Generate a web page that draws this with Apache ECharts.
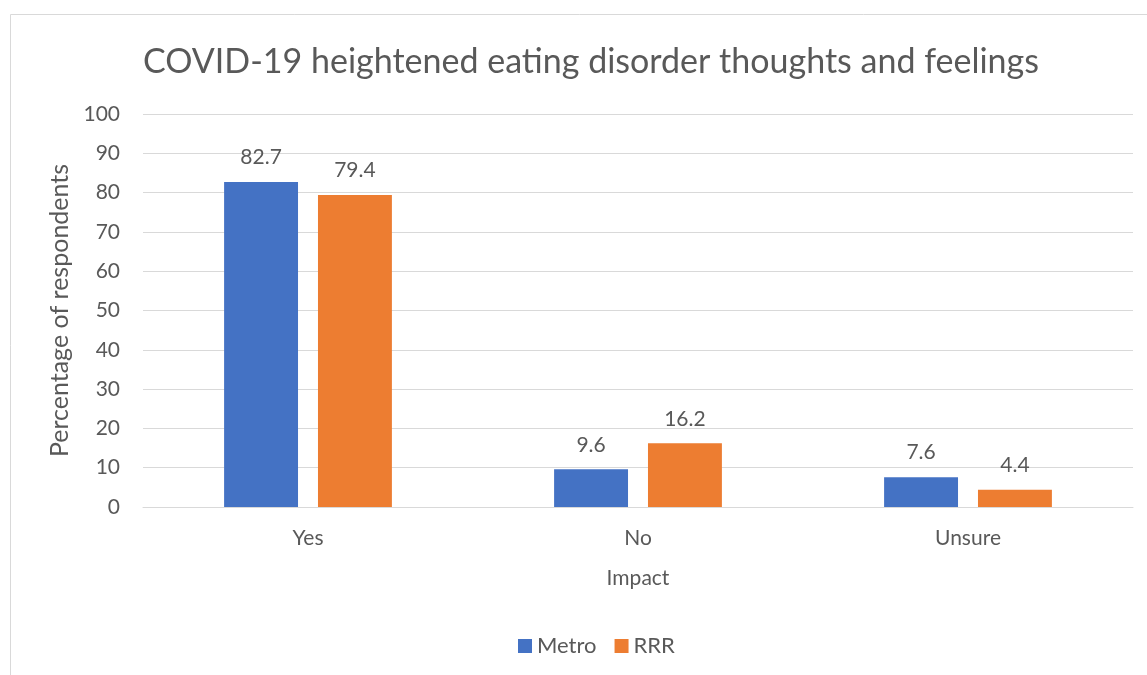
<!DOCTYPE html>
<html>
<head>
<meta charset="utf-8">
<script src="https://cdn.jsdelivr.net/npm/echarts@6/dist/echarts.min.js"></script>
<style>
  html, body { margin: 0; padding: 0; background: #fff; }
  #chart { width: 1147px; height: 675px; }
</style>
</head>
<body>
<div id="chart"></div>
<script>
// Survey responses by region
const categories = ['Yes', 'No', 'Unsure'];
const metro = [82.7, 9.6, 7.6];
const rrr = [79.4, 16.2, 4.4];
const yMin = 0, yMax = 100, yStep = 10;

const textColor = '#595959';
const font = 'Lato, "Open Sans", sans-serif';

const chart = echarts.init(document.getElementById('chart'));

const barLabel = {
  show: true,
  position: 'top',
  distance: 14,
  color: textColor,
  fontFamily: font,
  fontSize: 21,
  formatter: p => p.value.toFixed(1)
};

chart.setOption({
  animation: false,
  textStyle: { fontFamily: font },
  graphic: [{
    type: 'rect',
    shape: { x: 10.5, y: 14.5, width: 1200, height: 700 },
    style: { fill: 'none', stroke: '#d9d9d9', lineWidth: 1 },
    silent: true
  }],
  title: {
    text: 'COVID-19 heightened eating disorder thoughts and feelings',
    left: 586,
    textAlign: 'center',
    top: 40,
    textStyle: { color: textColor, fontFamily: font, fontSize: 34, fontWeight: 'normal' }
  },
  legend: {
    bottom: 13,
    left: 513,
    itemWidth: 14,
    itemHeight: 14,
    itemGap: 18,
    icon: 'rect',
    textStyle: { color: textColor, fontFamily: font, fontSize: 22 },
    data: ['Metro', 'RRR']
  },
  grid: { left: 143, right: 14, top: 114, bottom: 168, containLabel: false },
  xAxis: {
    type: 'category',
    data: categories,
    name: 'Impact',
    nameLocation: 'middle',
    nameGap: 61,
    nameTextStyle: { color: textColor, fontFamily: font, fontSize: 21 },
    axisLine: { show: true, lineStyle: { color: '#d9d9d9', width: 1 } },
    axisTick: { show: false },
    axisLabel: { color: textColor, fontFamily: font, fontSize: 21, margin: 21 }
  },
  yAxis: {
    type: 'value',
    min: yMin,
    max: yMax,
    interval: yStep,
    name: 'Percentage of respondents',
    nameLocation: 'middle',
    nameRotate: 90,
    nameGap: 69,
    nameTextStyle: { color: textColor, fontFamily: font, fontSize: 25 },
    axisLine: { show: false },
    axisTick: { show: false },
    axisLabel: { color: textColor, fontFamily: font, fontSize: 21, margin: 23 },
    splitLine: { lineStyle: { color: '#d9d9d9', width: 1 } }
  },
  series: [
    {
      name: 'Metro',
      type: 'bar',
      data: metro,
      barWidth: '22.4%',
      barGap: '27%',
      itemStyle: { color: '#4472C4' },
      label: barLabel
    },
    {
      name: 'RRR',
      type: 'bar',
      data: rrr,
      barWidth: '22.4%',
      itemStyle: { color: '#ED7D31' },
      label: barLabel
    }
  ]
});
</script>
</body>
</html>
